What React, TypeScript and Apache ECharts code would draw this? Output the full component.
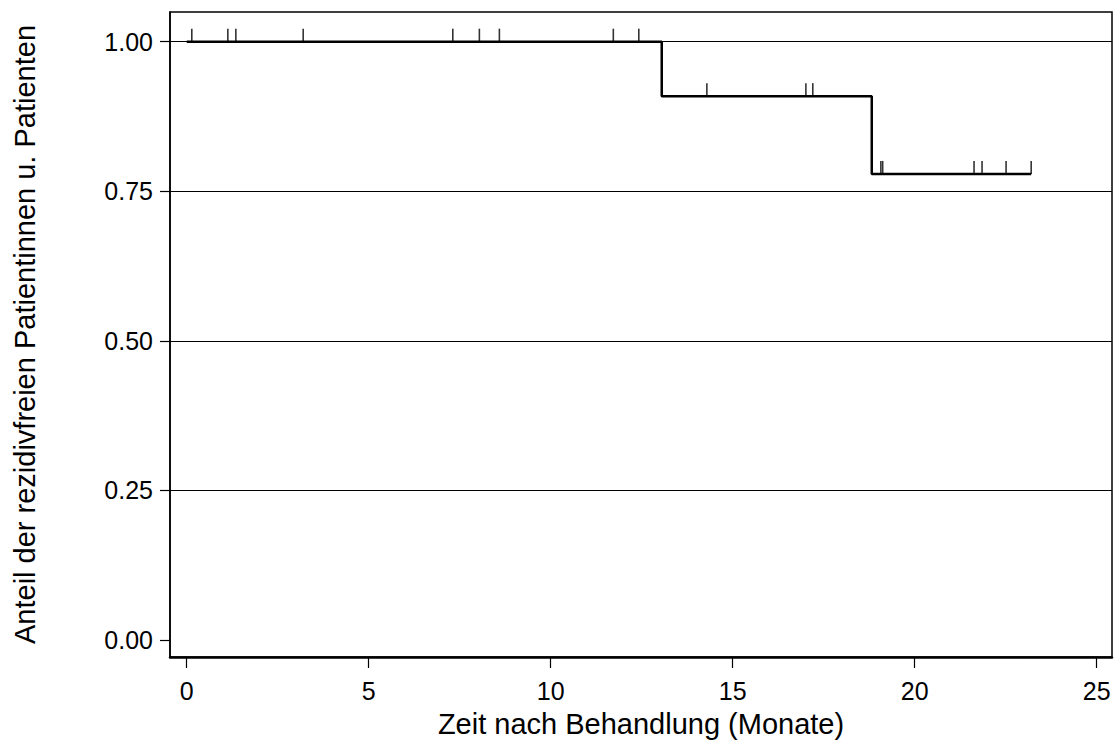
import React, { useEffect, useRef } from "react";
import * as echarts from "echarts";

// Kaplan-Meier step curve (event times and survival levels)
const stepTimes = [0, 13.05, 18.82, 23.2];
const stepSurvival = [1.0, 0.909, 0.779, 0.779];

// Censored observations (time, survival at that time)
const censorTimes = [0.14, 1.13, 1.35, 3.2, 7.31, 8.04, 8.59, 11.72, 12.42, 14.29, 17.01, 17.2, 19.07, 19.12, 21.63, 21.85, 22.51, 23.2];
const censorSurvival = [1, 1, 1, 1, 1, 1, 1, 1, 1, 0.909, 0.909, 0.909, 0.779, 0.779, 0.779, 0.779, 0.779, 0.779];

const xTicks = [0, 5, 10, 15, 20, 25];
const yTicks = [0, 0.25, 0.5, 0.75, 1.0];
const yGridLines = [0.25, 0.5, 0.75, 1.0];

const xTitle = "Zeit nach Behandlung (Monate)";
const yTitle = "Anteil der rezidivfreien Patientinnen u. Patienten";

const FONT = "'Liberation Sans', Arial, sans-serif";

export default function App() {
  const ref = useRef<HTMLDivElement>(null);

  useEffect(() => {
    document.body.style.margin = "0";
    if (!ref.current) return;
    const chart = echarts.init(ref.current, null, { renderer: "svg" });

    const lineData = stepTimes.map((t, i) => [t, stepSurvival[i]]);
    const censorData = censorTimes.map((t, i) => [t, censorSurvival[i]]);

    chart.setOption({
      animation: false,
      backgroundColor: "#ffffff",
      grid: {
        left: 170,
        top: 12,
        right: 4,
        bottom: 90,
        show: true,
        borderColor: "#000",
        borderWidth: 1.5,
        backgroundColor: "transparent",
      },
      xAxis: {
        type: "value",
        min: -0.459,
        max: 25.42,
        name: xTitle,
        nameLocation: "middle",
        nameGap: 52,
        nameTextStyle: { fontFamily: FONT, fontSize: 29, color: "#000" },
        axisLine: { show: true, onZero: false, lineStyle: { color: "#000", width: 2.5 } },
        axisTick: { show: true, customValues: xTicks, length: 11, lineStyle: { color: "#000", width: 1.2 } },
        axisLabel: {
          customValues: xTicks,
          margin: 21,
          fontFamily: FONT,
          fontSize: 25,
          color: "#000",
        },
        splitLine: { show: false },
      },
      yAxis: {
        type: "value",
        min: -0.0284,
        max: 1.0496,
        name: yTitle,
        nameLocation: "middle",
        nameGap: 131,
        nameTextStyle: { fontFamily: FONT, fontSize: 29, color: "#000" },
        axisLine: { show: true, onZero: false, lineStyle: { color: "#000", width: 1.5 } },
        axisTick: { show: true, customValues: yTicks, length: 10, lineStyle: { color: "#000", width: 1.2 } },
        axisLabel: {
          customValues: yTicks,
          margin: 17,
          fontFamily: FONT,
          fontSize: 25,
          color: "#000",
          formatter: (v: number) => v.toFixed(2),
        },
        splitLine: { show: false },
      },
      series: [
        {
          type: "line",
          step: "end",
          data: lineData,
          symbol: "none",
          lineStyle: { color: "#000", width: 2.5 },
          z: 3,
          markLine: {
            silent: true,
            symbol: "none",
            label: { show: false },
            lineStyle: { color: "#000", width: 1, type: "solid" },
            data: yGridLines.map((v) => ({ yAxis: v })),
            z: 1,
          },
        },
        {
          type: "scatter",
          data: censorData,
          symbol: "rect",
          symbolSize: [1.6, 13],
          symbolOffset: [0, -6.5],
          itemStyle: { color: "#000" },
          z: 4,
        },
      ],
    });

    return () => chart.dispose();
  }, []);

  return <div ref={ref} style={{ width: 1116, height: 747 }} />;
}
